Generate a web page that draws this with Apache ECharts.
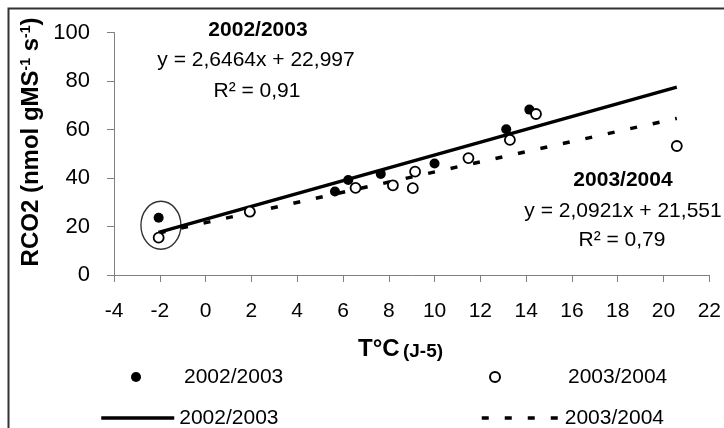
<!DOCTYPE html>
<html>
<head>
<meta charset="utf-8">
<script src="https://cdn.jsdelivr.net/npm/echarts@6/dist/echarts.min.js"></script>
<style>
html,body{margin:0;padding:0;background:#fff;}
#c{width:724px;height:428px;}
</style>
</head>
<body>
<div id="c"></div>
<script>
// ---- data ----
const seriesNames = ['2002/2003', '2003/2004'];
const points2002 = [[-2.05, 23.6], [5.65, 34.4], [6.23, 39.2], [7.65, 41.7], [10.0, 46.0], [13.13, 60.1], [14.14, 68.2]];
const points2003 = [[-2.05, 15.4], [1.93, 26.1], [6.55, 35.9], [8.18, 37.0], [9.05, 35.8], [9.15, 42.6], [11.48, 48.2], [13.29, 55.7], [14.43, 66.4], [20.58, 53.2]];
const trend2002 = [[-2.05, 17.6], [20.58, 77.5]];
const trend2003 = [[-2.05, 17.3], [20.58, 64.6]];
const circledPoint = [[-1.95, 20.5]];
const equations = ['y = 2,6464x + 22,997', 'y = 2,0921x + 21,551'];
const r2Labels = ['R² = 0,91', 'R² = 0,79'];
const xRange = [-4, 22, 2];
const yRange = [0, 100, 20];

const FONT = 'Liberation Sans, Arial, sans-serif';
const legendNames = {p2002: seriesNames[0], p2003: seriesNames[1], t2002: seriesNames[0], t2003: seriesNames[1]};

const chart = echarts.init(document.getElementById('c'), null, {renderer: 'canvas'});

const axisCommon = {
  axisLine: {show: true, onZero: false, lineStyle: {color: '#808080', width: 1}},
  axisTick: {show: true, inside: false, length: 7, lineStyle: {color: '#808080', width: 1}},
  splitLine: {show: false},
  axisLabel: {color: '#000', fontSize: 21, fontFamily: FONT}
};

function legendItem(name, left, top, itemWidth, isLine) {
  const l = {
    data: [name], left: left, top: top, orient: 'horizontal', padding: 0,
    itemWidth: itemWidth, itemHeight: 10, selectedMode: false,
    formatter: function (n) { return legendNames[n]; },
    textStyle: {color: '#000', fontSize: 21, fontFamily: FONT, lineHeight: 22}
  };
  if (isLine) {
    l.itemStyle = {opacity: 0};
    l.lineStyle = {width: 3.5};
  }
  return l;
}

const option = {
  animation: false,
  backgroundColor: '#fff',
  grid: {left: 114, right: 11, top: 32.5, bottom: 153, containLabel: false},
  xAxis: Object.assign({}, axisCommon, {
    type: 'value', min: xRange[0], max: xRange[1], interval: xRange[2],
    axisLabel: Object.assign({}, axisCommon.axisLabel, {margin: 26})
  }),
  yAxis: Object.assign({}, axisCommon, {
    type: 'value', min: yRange[0], max: yRange[1], interval: yRange[2],
    axisLabel: Object.assign({}, axisCommon.axisLabel, {margin: 24, fontSize: 22})
  }),
  legend: [
    legendItem('p2002', 131, 366, 86, false),
    legendItem('p2003', 489, 366, 136, false),
    legendItem('t2002', 99.5, 407, 73, true),
    legendItem('t2003', 480, 407, 78, true)
  ],
  series: [
    {
      name: 't2002', type: 'line', data: trend2002, symbol: 'none', z: 2,
      lineStyle: {color: '#000', width: 3.5, type: 'solid'}, itemStyle: {color: '#000'}
    },
    {
      name: 't2003', type: 'line', data: trend2003, symbol: 'none', z: 2,
      lineStyle: {color: '#000', width: 3.5, type: [7, 16], cap: 'butt'}, itemStyle: {color: '#000'}
    },
    {
      name: 'p2002', type: 'scatter', data: points2002, symbol: 'circle', symbolSize: 10, z: 3,
      itemStyle: {color: '#000', borderColor: '#000', borderWidth: 0, opacity: 1}
    },
    {
      name: 'p2003', type: 'scatter', data: points2003, symbol: 'circle', symbolSize: 10, z: 4,
      itemStyle: {color: '#fff', borderColor: '#000', borderWidth: 1.8, opacity: 1}
    },
    {
      name: 'circle', type: 'scatter', data: circledPoint, symbol: 'circle', symbolSize: [40, 48], z: 1,
      itemStyle: {color: 'rgba(0,0,0,0)', borderColor: '#000', borderWidth: 1.5}, silent: true
    }
  ],
  graphic: [
    {type: 'rect', silent: true, shape: {x: 8.5, y: 8.5, width: 900, height: 700},
      style: {fill: 'none', stroke: '#333', lineWidth: 2}},
    {type: 'text', silent: true, x: 258, y: 30,
      style: {text: seriesNames[0], fill: '#000', fontSize: 21, fontWeight: 'bold', fontFamily: FONT, align: 'center', verticalAlign: 'middle'}},
    {type: 'text', silent: true, x: 256, y: 60,
      style: {text: equations[0], fill: '#000', fontSize: 21, fontFamily: FONT, align: 'center', verticalAlign: 'middle'}},
    {type: 'text', silent: true, x: 257, y: 91,
      style: {text: r2Labels[0], fill: '#000', fontSize: 21, fontFamily: FONT, align: 'center', verticalAlign: 'middle'}},
    {type: 'text', silent: true, x: 623, y: 180,
      style: {text: seriesNames[1], fill: '#000', fontSize: 21, fontWeight: 'bold', fontFamily: FONT, align: 'center', verticalAlign: 'middle'}},
    {type: 'text', silent: true, x: 623, y: 211,
      style: {text: equations[1], fill: '#000', fontSize: 21, fontFamily: FONT, align: 'center', verticalAlign: 'middle'}},
    {type: 'text', silent: true, x: 622, y: 240,
      style: {text: r2Labels[1], fill: '#000', fontSize: 21, fontFamily: FONT, align: 'center', verticalAlign: 'middle'}},
    {type: 'text', silent: true, x: 358, y: 349,
      style: {text: '{a|T°C} {b|(J-5)}', align: 'left', verticalAlign: 'middle',
        rich: {a: {fontSize: 24, fontWeight: 'bold', fontFamily: FONT, fill: '#000', verticalAlign: 'bottom'},
               b: {fontSize: 19, fontWeight: 'bold', fontFamily: FONT, fill: '#000', verticalAlign: 'bottom'}}}},
    {type: 'text', silent: true, x: 31, y: 142, rotation: Math.PI / 2,
      style: {text: '{b|RCO2 (nmol gMS}{s|-1}{b| s}{s|-1}{b|)}', align: 'center', verticalAlign: 'middle',
        rich: {b: {fontSize: 24, fontWeight: 'bold', fontFamily: FONT, fill: '#000'},
               s: {fontSize: 14, fontWeight: 'bold', fontFamily: FONT, fill: '#000', verticalAlign: 'top'}}}}
  ]
};

chart.setOption(option);
</script>
</body>
</html>
